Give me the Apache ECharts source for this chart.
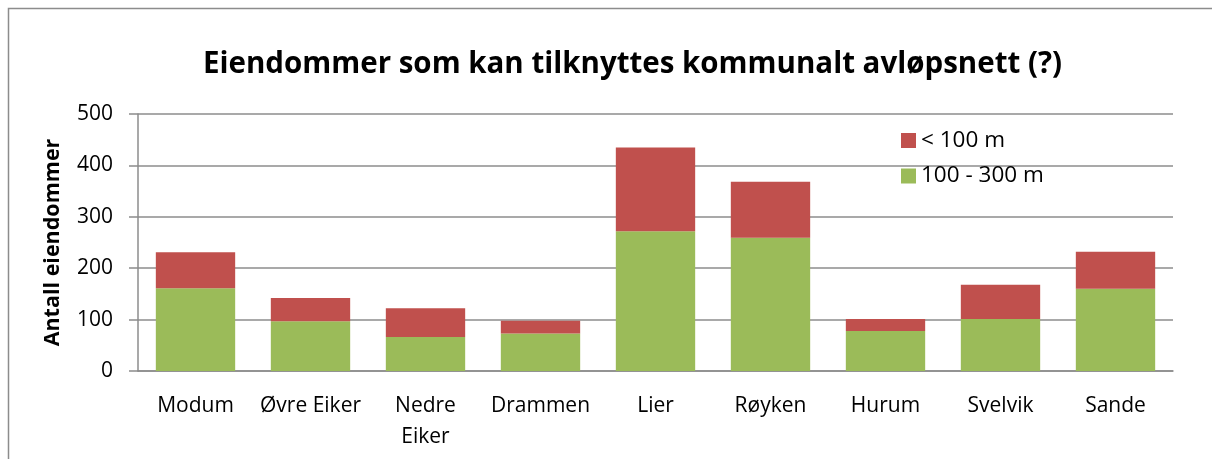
<!DOCTYPE html>
<html>
<head>
    <meta charset="UTF-8">
    <title>Eiendommer som kan tilknyttes kommunalt avløpsnett</title>
    <style>
        body, html {
            margin: 0;
            padding: 0;
            width: 100%;
            height: 100%;
            background: #fff;
        }
        #container {
            width: 1212px;
            height: 459px;
        }
    </style>
</head>
<body>
<div id="container"></div>

<script src="https://cdn.jsdelivr.net/npm/echarts@6/dist/echarts.min.js"></script>
<script>
    // data
    var kommuner = ['Modum', 'Øvre Eiker', 'Nedre\nEiker', 'Drammen', 'Lier', 'Røyken', 'Hurum', 'Svelvik', 'Sande'];
    var mellom100og300 = [161, 97, 66, 73, 272, 259, 78, 101, 160];
    var under100 = [70, 45, 56, 25, 163, 109, 23, 67, 72];
    var yTicks = [0, 100, 200, 300, 400, 500];

    var fontName = '"Open Sans", sans-serif';

    function buildChart() {
        var echart = echarts.init(document.getElementById('container'));
        var option = {
            animation: false,
            textStyle: {fontFamily: fontName},
            title: {
                text: 'Eiendommer som kan tilknyttes kommunalt avløpsnett (?)',
                left: 198,
                top: 45,
                textStyle: {
                    fontSize: 29.5,
                    fontWeight: 'bold',
                    color: '#000',
                    fontFamily: fontName
                }
            },
            // chart frame like the original (only top + left visible)
            graphic: [{
                type: 'rect',
                shape: {x: 8.5, y: 8.5, width: 1240, height: 500},
                style: {fill: 'none', stroke: '#8c8c8c', lineWidth: 1.5},
                silent: true
            }],
            legend: {
                orient: 'vertical',
                left: 901,
                top: 129,
                padding: 0,
                itemWidth: 15,
                itemHeight: 15,
                itemGap: 12.5,
                icon: 'rect',
                textStyle: {fontSize: 22.5, color: '#000', fontFamily: fontName},
                data: ['< 100 m', '100 - 300 m']
            },
            grid: {
                left: 138,
                right: 39,
                top: 114,
                bottom: 88
            },
            xAxis: [{
                type: 'category',
                data: kommuner,
                axisLine: {lineStyle: {color: '#8c8c8c', width: 1.5}},
                axisTick: {show: false},
                axisLabel: {
                    color: '#000',
                    fontSize: 21,
                    margin: 20,
                    lineHeight: 31,
                    fontFamily: fontName,
                    interval: 0
                }
            }],
            yAxis: [{
                type: 'value',
                min: yTicks[0],
                max: yTicks[yTicks.length - 1],
                interval: 100,
                name: 'Antall eiendommer',
                nameLocation: 'middle',
                nameGap: 74,
                nameTextStyle: {fontSize: 21.5, fontWeight: 'bold', color: '#000', fontFamily: fontName},
                axisLine: {show: true, lineStyle: {color: '#8c8c8c', width: 1.5}},
                axisTick: {show: true, length: 9, lineStyle: {color: '#8c8c8c', width: 1.5}},
                axisLabel: {color: '#000', fontSize: 21, margin: 25, fontFamily: fontName},
                splitLine: {lineStyle: {color: '#8c8c8c', width: 1.5}}
            }],
            series: [{
                name: '100 - 300 m',
                type: 'bar',
                stack: 'total',
                barCategoryGap: '31%',
                itemStyle: {color: '#9BBB59'},
                data: mellom100og300
            }, {
                name: '< 100 m',
                type: 'bar',
                stack: 'total',
                barCategoryGap: '31%',
                itemStyle: {color: '#C0504D'},
                data: under100
            }]
        };
        echart.setOption(option);
    }

    buildChart();
</script>
</body>
</html>
